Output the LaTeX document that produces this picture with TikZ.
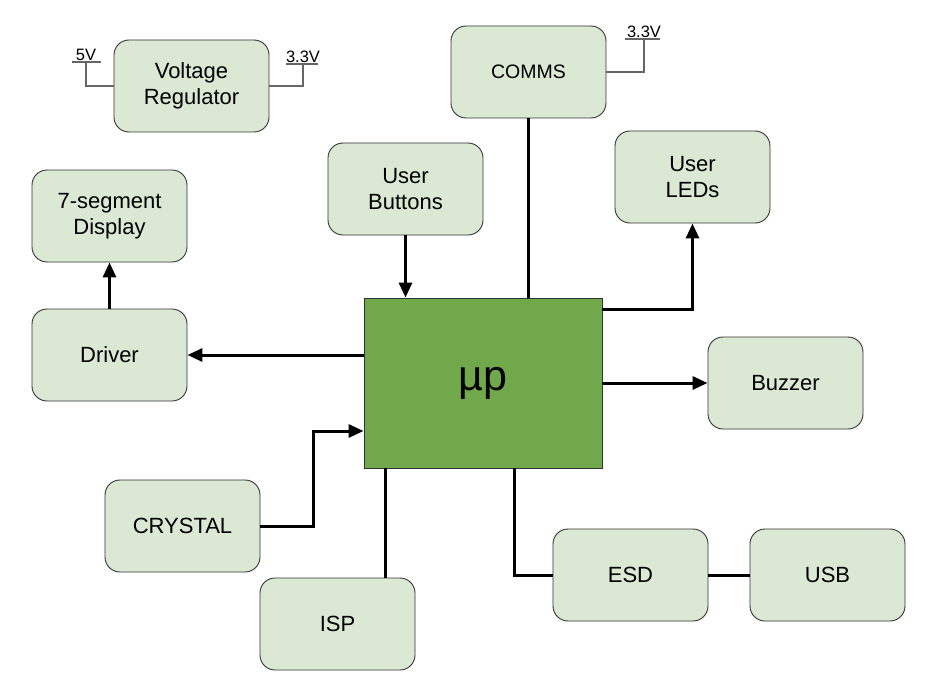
\documentclass[tikz,border=0pt]{standalone}
\usepackage{fontspec}
\setmainfont{Liberation Sans}
\usetikzlibrary{arrows.meta,calc}
\definecolor{lgreen}{HTML}{DAE8D4}
\definecolor{dgreen}{HTML}{71A84B}
\definecolor{bord}{HTML}{333333}
\tikzset{
  blk/.style={draw=bord, line width=0.9pt, fill=lgreen, rounded corners=15pt,
    minimum width=155pt, minimum height=92pt, align=center, inner sep=0pt,
    font=\fontsize{22}{26}\selectfont},
  mcu/.style={draw=bord, line width=0.9pt, fill=dgreen,
    minimum width=238pt, minimum height=170pt, inner sep=0pt,
    font=\fontsize{43}{46}\selectfont},
  conn/.style={line width=3pt, black},
  arr/.style={conn, -{Triangle[length=15pt,width=13pt]}},
  gline/.style={line width=1.6pt, black!60},
  vlab/.style={font=\fontsize{16.5}{18}\selectfont, inner sep=1pt, anchor=south}
}
\begin{document}
\begin{tikzpicture}[x=1pt,y=-1pt]
\useasboundingbox (0,0) rectangle (929,698);
\fill[white] (0,0) rectangle (929,698);

\node[blk] (vr) at (191.5,86) {Voltage\\Regulator};
\node[blk] (comms) at (528.5,72) {\fontsize{19.5}{22}\selectfont COMMS};
\node[blk] (leds) at (692.5,177) {User\\LEDs};
\node[blk] (btn) at (405.5,189) {User\\Buttons};
\node[blk] (seg) at (109.5,216) {7-segment\\Display};
\node[blk] (drv) at (109.5,355) {Driver};
\node[mcu] (mu) at (483,383) {µp};
\node[blk] (buz) at (785.5,383) {Buzzer};
\node[blk] (cry) at (182.5,526) {CRYSTAL};
\node[blk] (esd) at (630.5,575) {ESD};
\node[blk] (usb) at (827.5,575) {USB};
\node[blk] (isp) at (337.5,624) {ISP};

% supply symbols
\coordinate (p5) at (86,62);
\coordinate (p33a) at (303,64);
\coordinate (p33b) at (644,39);
\node[vlab] (l5) at (p5) {5V};
\node[vlab] (l33a) at (p33a) {3.3V};
\node[vlab] (l33b) at (p33b) {3.3V};
\draw[gline] ([xshift=-14pt]p5) -- ([xshift=15pt]p5);
\draw[gline] ([xshift=-17pt]p33a) -- ([xshift=15pt]p33a);
\draw[gline] ([xshift=-19pt]p33b) -- ([xshift=16pt]p33b);
\draw[gline] (vr.west) -| (p5);
\draw[gline] (vr.east) -| (p33a);
\draw[gline] (comms.east) -| (p33b);

% connectors
\draw[arr] (btn.south) -- (btn.south |- mu.north);
\draw[arr] ([yshift=-12pt]mu.north east) -| (leds.south);
\draw[conn] (comms.south) -- (comms.south |- mu.north);
\draw[arr] (mu.west |- drv.east) -- (drv.east);
\draw[arr] (drv.north) -- (seg.south);
\draw[arr] (mu.east) -- (buz.west);
\draw[arr] (cry.east) -- ++(53pt,0) |- ([yshift=-48pt]mu.west);
\coordinate (ispTop) at ([xshift=22pt]mu.south west);
\draw[conn] (ispTop) -- (ispTop |- isp.north);
\coordinate (esdTop) at ([xshift=151pt]mu.south west);
\draw[conn] (esdTop) |- (esd.west);
\draw[conn] (esd.east) -- (usb.west);
\end{tikzpicture}
\end{document}
